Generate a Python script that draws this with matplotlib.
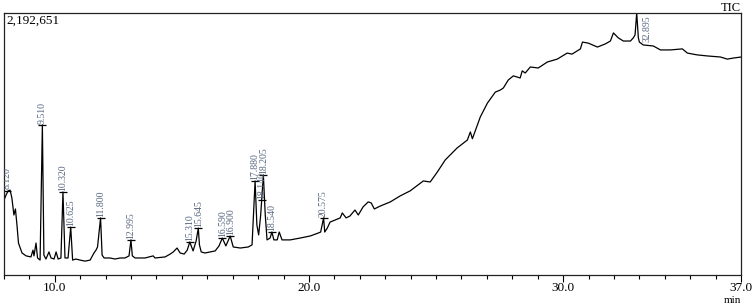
import matplotlib
matplotlib.use("Agg")
import matplotlib.pyplot as plt
from matplotlib.ticker import MultipleLocator

plt.rcParams['font.family'] = ['Liberation Serif', 'DejaVu Serif']

# retention time (min) and TIC intensity (% of full scale 2,192,651)
rt = [8.00, 8.08, 8.16, 8.24, 8.31, 8.39, 8.45, 8.51, 8.57, 8.71, 8.87, 9.06, 9.14, 9.18,
      9.26, 9.32, 9.42, 9.51, 9.57, 9.65, 9.77, 9.85, 9.97, 10.05, 10.13, 10.24, 10.32,
      10.40, 10.52, 10.625, 10.70, 10.83, 10.99, 11.19, 11.39, 11.54, 11.62, 11.68, 11.80,
      11.86, 11.94, 12.17, 12.37, 12.57, 12.76, 12.92, 12.995, 13.05, 13.16, 13.55, 13.87,
      13.94, 14.34, 14.54, 14.66, 14.81, 14.93, 15.09, 15.21, 15.31, 15.44, 15.56, 15.645,
      15.69, 15.76, 15.91, 16.11, 16.31, 16.46, 16.59, 16.73, 16.90, 17.02, 17.30, 17.61,
      17.76, 17.88, 17.95, 18.02, 18.10, 18.14, 18.205, 18.28, 18.35, 18.47, 18.54, 18.62,
      18.75, 18.83, 18.94, 19.26, 19.65, 20.05, 20.36, 20.46, 20.575, 20.62, 20.72, 20.83,
      21.03, 21.23, 21.31, 21.46, 21.61, 21.81, 21.94, 22.13, 22.33, 22.45, 22.57, 22.80,
      23.20, 23.59, 23.98, 24.50, 24.77, 25.05, 25.36, 25.83, 26.23, 26.35, 26.43, 26.74,
      27.02, 27.33, 27.53, 27.65, 27.84, 28.04, 28.31, 28.39, 28.51, 28.71, 29.02, 29.38,
      29.77, 30.16, 30.35, 30.68, 30.76, 30.99, 31.35, 31.66, 31.86, 31.98, 32.17, 32.37,
      32.65, 32.76, 32.83, 32.895, 32.96, 33.00, 33.15, 33.55, 33.83, 34.22, 34.69, 34.89,
      35.28, 35.68, 36.19, 36.46, 36.70, 37.00]
tic = [28.6, 30.5, 32.1, 32.4, 29.4, 22.9, 25.2, 19.1, 12.2, 8.4, 7.3, 6.9, 9.5, 7.3,
       12.2, 6.5, 5.7, 57.3, 7.6, 6.1, 8.8, 6.5, 6.1, 8.8, 6.1, 6.5, 31.7,
       6.5, 6.5, 18.3, 5.7, 6.1, 5.7, 5.3, 5.7, 8.4, 9.5, 10.7, 21.8,
       7.6, 6.5, 6.5, 6.1, 6.5, 6.5, 7.3, 13.4, 7.3, 6.5, 6.5, 7.3,
       6.5, 6.9, 8.0, 8.8, 10.3, 8.4, 8.0, 9.5, 12.6, 9.2, 13.0, 17.9,
       11.5, 8.8, 8.4, 8.8, 9.2, 11.1, 14.1, 11.1, 14.9, 10.7, 10.3, 10.7,
       11.5, 35.9, 19.1, 15.3, 22.9, 28.6, 38.2, 22.9, 13.4, 14.1, 16.4, 13.4,
       13.4, 16.4, 13.4, 13.4, 14.1, 14.9, 16.0, 16.4, 21.8, 16.4, 17.9, 20.2,
       21.0, 21.8, 23.7, 21.8, 22.5, 24.8, 22.9, 26.0, 27.9, 27.5, 25.2, 26.3,
       27.9, 30.2, 32.1, 35.9, 35.5, 39.3, 43.9, 48.5, 51.5, 54.6, 52.0, 60.3,
       65.6, 69.8, 70.6, 71.4, 74.4, 76.0, 75.2, 77.9, 77.1, 79.4, 79.0, 81.3,
       82.4, 84.7, 84.3, 86.3, 88.9, 88.5, 87.0, 88.2, 89.3, 92.4, 90.5, 89.3,
       89.3, 90.5, 91.6, 100.0, 90.5, 88.9, 87.8, 87.4, 85.9, 85.9, 86.3, 84.7,
       84.0, 83.6, 83.2, 82.4, 82.8, 83.2]

peak_labels = ['8.120', '9.510', '10.320', '10.625', '11.800', '12.995', '15.310', '15.645',
               '16.590', '16.900', '17.880', '18.140', '18.205', '18.540', '20.575', '32.895']
peak_rt = [8.12, 9.51, 10.32, 10.625, 11.80, 12.995, 15.31, 15.645,
           16.59, 16.90, 17.88, 18.14, 18.205, 18.54, 20.575, 32.895]
peak_top = [32.2, 57.3, 31.7, 18.3, 21.8, 13.4, 12.6, 17.9,
            14.1, 14.9, 35.9, 28.6, 38.2, 16.4, 21.8, 100.0]

fig = plt.figure(figsize=(7.54, 3.07), dpi=100)
ax = fig.add_axes([0.0053, 0.1042, 0.9775, 0.8535])
ax.plot(rt, tic, color='black', lw=0.9)

lab_color = '#55647e'
for name, x, y in zip(peak_labels, peak_rt, peak_top):
    if name == '32.895':
        ax.text(x + 0.4, 99, name, rotation=90, ha='center', va='top',
                fontsize=7, color=lab_color)
    else:
        ax.plot([x], [y], marker='_', ms=6, mew=0.9, color='black')
        ax.text(x, y + 0.5, name, rotation=90, ha='center', va='bottom',
                fontsize=7, color=lab_color, clip_on=True)

ax.set_xlim(8.0, 37.0)
ax.set_ylim(0, 100)
ax.set_xticks([10.0, 20.0, 30.0, 37.0])
ax.set_xticklabels(['10.0', '20.0', '30.0', '37.0'])
ax.xaxis.set_minor_locator(MultipleLocator(1.0))
ax.tick_params(axis='x', which='major', direction='out', length=5, width=0.8,
               labelsize=9.5, pad=0)
ax.tick_params(axis='x', which='minor', direction='out', length=3, width=0.8)
ax.set_yticks([])
for s in ax.spines.values():
    s.set_linewidth(0.9)
    s.set_color('#222222')

ax.text(0.003, 0.995, '2,192,651', transform=ax.transAxes, ha='left', va='top', fontsize=9.5)
fig.text(0.982, 0.995, 'TIC', ha='right', va='top', fontsize=9)
fig.text(0.972, 0.02, 'min', ha='center', va='center', fontsize=8)

fig.savefig('out.png', dpi=100)
